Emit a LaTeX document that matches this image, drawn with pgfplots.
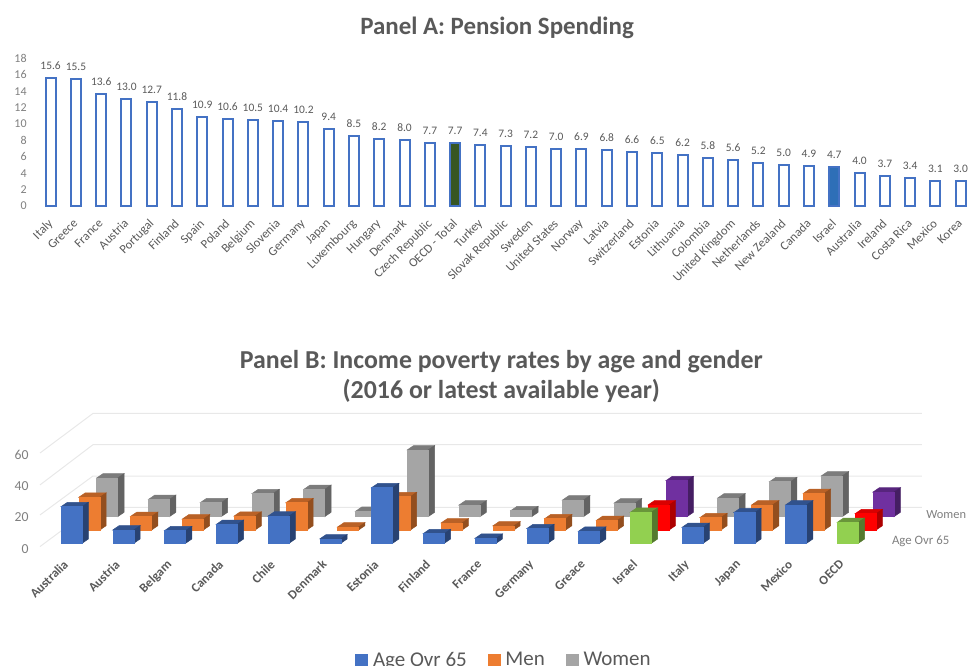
\documentclass[border=0pt]{standalone}
\usepackage{fontspec}
\setmainfont{Carlito}
\usepackage{pgfplots}
\pgfplotsset{compat=1.18}

\definecolor{titlegrey}{HTML}{595959}
\definecolor{tickgrey}{HTML}{7F7F7F}
\definecolor{labelgrey}{HTML}{595959}
\definecolor{gridgrey}{HTML}{E8E8E8}
\definecolor{barblue}{HTML}{4472C4}
\definecolor{barorange}{HTML}{ED7D31}
\definecolor{bargrey}{HTML}{A5A5A5}
\definecolor{bargreen}{HTML}{92D050}
\definecolor{barred}{HTML}{FF0000}
\definecolor{barpurple}{HTML}{7030A0}
\definecolor{oecdgreen}{HTML}{375623}
\definecolor{israelblue}{HTML}{2E6FB7}

\pgfdeclareplotmark{nullmark}{}

% one 3D box per point: 1px = 0.75pt, marker sits at the top of the front row
\newcommand{\drawbox}[5]{%
  \pgfmathsetmacro\bh{\barval*1.17375}%
  \pgfmathsetmacro\xl{#4-7.875}%
  \pgfmathsetmacro\xr{#4+7.875}%
  \pgfmathsetmacro\yb{#5-\bh}%
  \fill[#2] (\xl pt,#5pt) -- ++(4.725pt,3.225pt) -- ++(15.75pt,0pt) -- (\xr pt,#5pt) -- cycle;
  \fill[#3] (\xr pt,#5pt) -- ++(4.725pt,3.225pt) -- ++(0pt,-\bh pt) -- (\xr pt,\yb pt) -- cycle;
  \fill[#1] (\xl pt,#5pt) rectangle (\xr pt,\yb pt);}

\pgfplotsset{
  bar3d/.style n args={5}{
    forget plot, only marks, scatter, mark=nullmark,
    visualization depends on={rawy \as \barval},
    scatter/@pre marker code/.code={\drawbox{#1}{#2}{#3}{#4}{#5}},
    scatter/@post marker code/.code={},
  },
  agebar/.style={bar3d={barblue}{barblue!72!black}{barblue!58!black}{0}{0}},
  menbar/.style={bar3d={barorange}{barorange!78!black}{barorange!62!black}{13.35}{9.975}},
  womenbar/.style={bar3d={bargrey}{bargrey!75!black}{bargrey!60!black}{26.775}{20}},
  agehl/.style={bar3d={bargreen}{bargreen!72!black}{bargreen!58!black}{0}{0}},
  menhl/.style={bar3d={barred}{barred!85!black}{barred!68!black}{13.35}{9.975}},
  womenhl/.style={bar3d={barpurple}{barpurple!78!black}{barpurple!62!black}{26.775}{20}},
  grid3d/.style={forget plot, gridgrey, line width=0.75pt, mark=none},
  pensionbar/.style={ybar, bar width=7.5pt, bar shift=0pt, draw=barblue, line width=1.5pt},
  every axis title shift=0pt,
}

\begin{document}
\begin{tikzpicture}
\path[use as bounding box] (0,0) rectangle (727.5pt,499.5pt);

\begin{axis}[
  at={(28.5pt,345pt)}, anchor=south west,
  scale only axis, width=699pt, height=110.7pt,
  xmin=-0.5, xmax=36.37, ymin=0, ymax=18,
  clip=false, enlargelimits=false,
  axis line style={draw=none}, major tick length=0pt,
  /pgf/number format/assume math mode=true,
  ytick={0,2,...,18},
  xtick={0,1,...,36},
  xticklabels={Italy,Greece,France,Austria,Portugal,Finland,Spain,Poland,Belgium,Slovenia,Germany,Japan,Luxembourg,Hungary,Denmark,Czech Republic,OECD - Total,Turkey,Slovak Republic,Sweden,United States,Norway,Latvia,Switzerland,Estonia,Lithuania,Colombia,United Kingdom,Netherlands,New Zealand,Canada,Israel,Australia,Ireland,Costa Rica,Mexico,Korea},
  yticklabel style={font=\fontsize{9}{10}\selectfont, tickgrey, xshift=-5pt},
  xticklabel style={font=\fontsize{9.4}{11}\selectfont, labelgrey, rotate=45, anchor=north east, inner sep=1pt, xshift=-7.25pt, yshift=-3.6pt},
  title={\textbf{Panel A: Pension Spending}},
  title style={at={(axis description cs:0.4925,1.209)}, anchor=center, font=\fontsize{18.7}{22}\selectfont, titlegrey},
  nodes near coords,
  nodes near coords style={font=\fontsize{8.6}{10}\selectfont, labelgrey, inner sep=2.6pt, yshift=3pt,
    /pgf/number format/.cd, fixed, fixed zerofill, precision=1, assume math mode=true},
]
\addplot[pensionbar, fill=white] coordinates {
  (0,15.6)(1,15.5)(2,13.6)(3,13.0)(4,12.7)(5,11.8)(6,10.9)(7,10.6)(8,10.5)(9,10.4)(10,10.2)(11,9.4)
  (12,8.5)(13,8.2)(14,8.0)(15,7.7)(17,7.4)(18,7.3)(19,7.2)(20,7.0)(21,6.9)(22,6.8)(23,6.6)(24,6.5)
  (25,6.2)(26,5.8)(27,5.6)(28,5.2)(29,5.0)(30,4.9)(32,4.0)(33,3.7)(34,3.4)(35,3.1)(36,3.0)};
\addplot[pensionbar, fill=oecdgreen] coordinates {(16,7.7)};
\addplot[pensionbar, fill=israelblue] coordinates {(31,4.7)};
\end{axis}

\begin{axis}[
  at={(30pt,83.25pt)}, anchor=south west,
  scale only axis, width=697.5pt, height=106.5pt,
  xmin=-0.609, xmax=17.362, ymin=-7.476, ymax=83.26,
  clip=false, enlargelimits=false,
  axis line style={draw=none}, major tick length=0pt,
  /pgf/number format/assume math mode=true,
  ytick={0,20,40,60},
  xtick={0,1,...,15},
  xticklabels={Australia,Austria,Belgam,Canada,Chile,Denmark,Estonia,Finland,France,Germany,Greace,Israel,Italy,Japan,Mexico,OECD},
  yticklabel style={font=\fontsize{10.3}{12}\selectfont, tickgrey, xshift=-5pt, yshift=-4pt},
  xticklabel style={font=\bfseries\fontsize{9.6}{11}\selectfont, labelgrey, rotate=45, anchor=north east, inner sep=1pt, xshift=-5.9pt, yshift=3.8pt},
  title={\textbf{Panel B: Income poverty rates by age and gender}\\\textbf{(2016 or latest available year)}},
  title style={at={(axis description cs:0.496,1.257)}, anchor=center, align=center, font=\fontsize{19.4}{23}\selectfont, titlegrey},
  legend style={at={(axis description cs:0.4995,-0.74)}, anchor=center, draw=none, fill=none,
    legend columns=3, font=\fontsize{15.75}{18}\selectfont, text=labelgrey,
    /tikz/every even column/.append style={column sep=14pt},
    /tikz/every odd column/.append style={column sep=2pt}},
  legend image code/.code={\draw[#1] (0.1cm,0cm) plot coordinates {(0.1cm,0cm)};},
]
\addlegendimage{only marks, mark=square*, mark size=4.5pt, barblue}
\addlegendentry{Age Ovr 65}
\addlegendimage{only marks, mark=square*, mark size=4.5pt, barorange}
\addlegendentry{Men}
\addlegendimage{only marks, mark=square*, mark size=4.5pt, bargrey}
\addlegendentry{Women}

% walls of the 3D box
\addplot[grid3d] coordinates {(-0.609,-2.1)(0.415,23)(16.43,23)};
\addplot[grid3d] coordinates {(-0.609,18.1)(0.415,43)(16.43,43)};
\addplot[grid3d] coordinates {(-0.609,37.3)(0.415,63)(16.43,63)};
\addplot[grid3d] coordinates {(-0.609,57.7)(0.415,83)(16.43,83)};

% back row first, then men, then the front row
\addplot[womenbar] coordinates {(0,24.7)(1,11)(2,8.9)(3,14.7)(4,17.4)(5,3.4)(6,42.6)(7,7.4)(8,3.8)(9,10.6)(10,8.7)(12,11.9)(13,22.3)(14,26)};
\addplot[womenhl] coordinates {(11,23)(15,15.7)};
\addplot[menbar] coordinates {(0,20.9)(1,8.7)(2,7)(3,8.9)(4,17.4)(5,1.9)(6,21.3)(7,4.5)(8,2.6)(9,7.2)(10,6.1)(12,7.9)(13,16)(14,23.4)};
\addplot[menhl] coordinates {(11,16)(15,10.4)};
\addplot[agebar] coordinates {(0,23.4)(1,8.5)(2,8.1)(3,12.1)(4,17.4)(5,2.8)(6,35.5)(7,6.2)(8,3.2)(9,9.4)(10,7.7)(12,10.2)(13,19.6)(14,24.5)};
\addplot[agehl] coordinates {(11,19.8)(15,13.4)};

\node[font=\fontsize{9.3}{11}\selectfont, tickgrey, anchor=west, inner sep=0pt] at (axis cs:16.514,18.6) {Women};
\node[font=\fontsize{9.6}{11}\selectfont, tickgrey, anchor=west, inner sep=0pt] at (axis cs:15.851,1.5) {Age Ovr 65};
\end{axis}
\end{tikzpicture}
\end{document}
